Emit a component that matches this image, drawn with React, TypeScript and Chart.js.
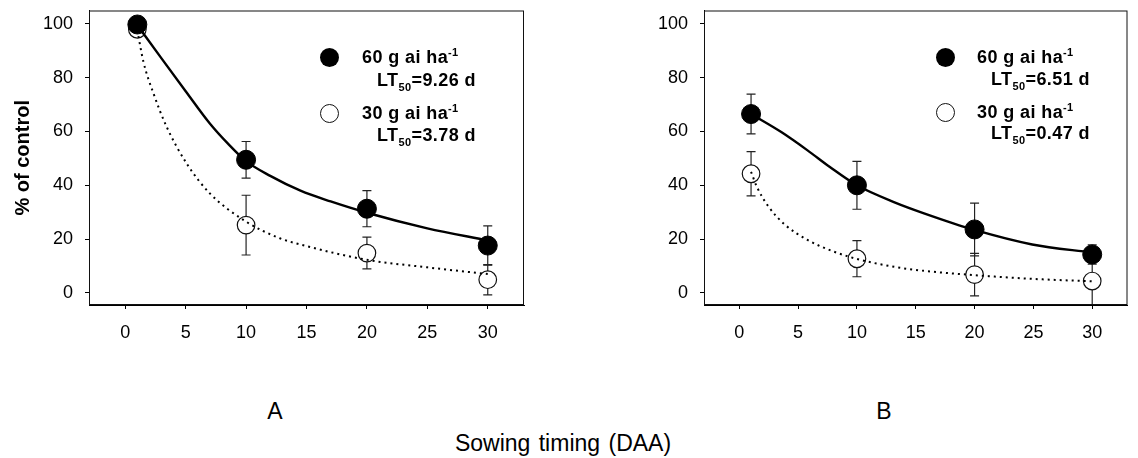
import React, { useEffect, useRef } from 'react';
import { Chart, registerables } from 'chart.js';

Chart.register(...registerables);

const FONT = "Arial, 'Liberation Sans', Helvetica, sans-serif";

// ---- data ----
const xTicks = [0, 5, 10, 15, 20, 25, 30];
const yTicks = [0, 20, 40, 60, 80, 100];
const sowingDays = [1, 10, 20, 30];

// Panel A observed means and errors
const a60Mean = [99.8, 49.5, 31.3, 17.6];
const a60Err = [0, 6.8, 6.7, 7.3];
const a30Mean = [98.0, 25.2, 14.8, 4.9];
const a30Err = [0, 11.1, 5.9, 5.6];

// Panel A fitted curves
const a60CurveX = [1, 3, 5, 7, 8.5, 10, 12, 14.5, 17, 20, 25, 30];
const a60CurveY = [99.5, 87.2, 75, 63, 55.5, 49, 43.5, 38, 34, 29.8, 24, 19.5];
const a30CurveX = [1, 1.5, 2.35, 3.4, 5.1, 7, 10, 12.8, 14.5, 20, 25, 30];
const a30CurveY = [97.6, 86, 74, 62, 48, 37, 26.5, 20.3, 18, 12.3, 9.5, 7];

// Panel B observed means and errors
const b60Mean = [66.5, 40.0, 23.6, 14.3];
const b60Err = [7.4, 8.9, 9.8, 3.6];
const b30Mean = [44.3, 12.7, 6.8, 4.4];
const b30Err = [8.2, 6.7, 7.9, 10];

// Panel B fitted curves
const b60CurveX = [1, 3.6, 5.8, 7.7, 10, 13.3, 15.7, 20, 24.9, 30];
const b60CurveY = [66.5, 59.7, 53, 46.8, 40, 33.5, 29.6, 23.4, 18, 15];
const b30CurveX = [1, 1.5, 2.5, 3.9, 5.8, 8, 10.2, 13.3, 15.7, 20, 25, 30];
const b30CurveY = [45, 39.4, 32, 25.3, 19.7, 15.4, 12.4, 9.6, 8.2, 6.6, 5.2, 4.3];

const rateLabels = ['60 g ai ha', '30 g ai ha'];
const ltA = ['9.26', '3.78'];
const ltB = ['6.51', '0.47'];

type Panel = {
  m60: number[]; e60: number[]; m30: number[]; e30: number[];
  c60x: number[]; c60y: number[]; c30x: number[]; c30y: number[];
};

const panelA: Panel = { m60: a60Mean, e60: a60Err, m30: a30Mean, e30: a30Err, c60x: a60CurveX, c60y: a60CurveY, c30x: a30CurveX, c30y: a30CurveY };
const panelB: Panel = { m60: b60Mean, e60: b60Err, m30: b30Mean, e30: b30Err, c60x: b60CurveX, c60y: b60CurveY, c30x: b30CurveX, c30y: b30CurveY };

const zip = (xs: number[], ys: number[]) => xs.map((x, i) => ({ x, y: ys[i] }));

function makeConfig(p: Panel, showTitle: boolean, yWidth: number, padRight: number): any {
  const errorBars = {
    id: 'errorBars',
    beforeDatasetsDraw(chart: any) {
      const { ctx, chartArea, scales } = chart;
      const xs = scales.x, ys = scales.y;
      ctx.save();
      ctx.beginPath();
      ctx.rect(chartArea.left, chartArea.top, chartArea.right - chartArea.left, chartArea.bottom - chartArea.top);
      ctx.clip();
      ctx.strokeStyle = '#222';
      ctx.lineWidth = 1.2;
      const sets = [[p.m60, p.e60], [p.m30, p.e30]];
      sets.forEach(([m, e]) => {
        sowingDays.forEach((d, i) => {
          if (!e[i]) return;
          const px = xs.getPixelForValue(d);
          const top = ys.getPixelForValue(m[i] + e[i]);
          const bot = ys.getPixelForValue(m[i] - e[i]);
          ctx.beginPath();
          ctx.moveTo(px, top); ctx.lineTo(px, bot);
          ctx.moveTo(px - 4.5, top); ctx.lineTo(px + 4.5, top);
          ctx.moveTo(px - 4.5, bot); ctx.lineTo(px + 4.5, bot);
          ctx.stroke();
        });
      });
      ctx.restore();
    },
  };
  const frame = {
    id: 'frame',
    afterDraw(chart: any) {
      const { ctx, chartArea } = chart;
      ctx.save();
      ctx.strokeStyle = '#111';
      ctx.lineWidth = 1;
      ctx.strokeRect(chartArea.left + 0.5, chartArea.top + 0.5, chartArea.right - chartArea.left - 1, chartArea.bottom - chartArea.top - 1);
      ctx.restore();
    },
  };
  return {
    type: 'scatter',
    data: {
      datasets: [
        { label: 'fit60', data: zip(p.c60x, p.c60y), showLine: true, borderColor: '#000', borderWidth: 2.4, pointRadius: 0, cubicInterpolationMode: 'monotone', fill: false, order: 0 },
        { label: 'fit30', data: zip(p.c30x, p.c30y), showLine: true, borderColor: '#000', borderWidth: 2, borderDash: [2, 4], pointRadius: 0, cubicInterpolationMode: 'monotone', fill: false, order: 0 },
        { label: '60 g', data: zip(sowingDays, p.m60), pointRadius: 9.5, pointBackgroundColor: '#000', pointBorderColor: '#000', pointBorderWidth: 1, order: 1 },
        { label: '30 g', data: zip(sowingDays, p.m30), pointRadius: 8.8, pointBackgroundColor: '#fff', pointBorderColor: '#111', pointBorderWidth: 1.2, order: 1 },
      ],
    },
    options: {
      animation: false,
      responsive: false,
      events: [],
      layout: { padding: { left: 0, top: 8, right: padRight, bottom: 5 } },
      plugins: { legend: { display: false }, tooltip: { enabled: false }, title: { display: false } },
      scales: {
        x: {
          type: 'linear', min: -3, max: 33,
          afterBuildTicks: (s: any) => { s.ticks = xTicks.map((v) => ({ value: v })); },
          afterFit: (s: any) => { s.height = 50; s.paddingLeft = 0; s.paddingRight = 0; },
          ticks: { color: '#000', font: { size: 18, family: FONT }, padding: 13, maxRotation: 0, autoSkip: false },
          grid: { drawOnChartArea: false, drawTicks: true, tickLength: 4, color: '#000', tickColor: '#000' },
          border: { display: true, color: '#000' },
        },
        y: {
          type: 'linear', min: -4.5, max: 105,
          afterBuildTicks: (s: any) => { s.ticks = yTicks.map((v) => ({ value: v })); },
          afterFit: (s: any) => { s.width = yWidth; s.paddingTop = 0; s.paddingBottom = 0; },
          ticks: { color: '#000', font: { size: 18, family: FONT }, padding: 12 },
          grid: { drawOnChartArea: false, drawTicks: true, tickLength: 4, color: '#000', tickColor: '#000' },
          border: { display: true, color: '#000' },
          title: { display: showTitle, text: '% of control', color: '#000', font: { size: 20, weight: 'bold', family: FONT }, padding: { top: 11, bottom: 0 } },
        },
      },
    },
    plugins: [errorBars, frame],
  };
}

function PanelChart({ panel, left, showTitle, yWidth, padRight }: { panel: Panel; left: number; showTitle: boolean; yWidth: number; padRight: number }) {
  const ref = useRef<HTMLCanvasElement | null>(null);
  useEffect(() => {
    if (!ref.current) return;
    Chart.defaults.font.family = FONT;
    const chart = new Chart(ref.current, makeConfig(panel, showTitle, yWidth, padRight));
    return () => chart.destroy();
  }, []);
  return <canvas ref={ref} width={569} height={360} style={{ position: 'absolute', left, top: 0, width: 569, height: 360 }} />;
}

const legendText: React.CSSProperties = {
  position: 'absolute', fontSize: 18, fontWeight: 'bold', lineHeight: '22px', whiteSpace: 'nowrap', letterSpacing: '0.4px', color: '#000',
};

function Legend({ cx, textX, ltX, rows, lt }: { cx: number; textX: number; ltX: number; rows: number[]; lt: string[] }) {
  return (
    <>
      {rateLabels.map((lab, i) => {
        const cy = rows[i * 2];
        const ly = rows[i * 2 + 1];
        const filled = i === 0;
        return (
          <React.Fragment key={i}>
            <div style={{ position: 'absolute', left: cx - 9.5, top: cy - 9.5, width: 19, height: 19, borderRadius: '50%', boxSizing: 'border-box', background: filled ? '#000' : '#fff', border: filled ? 'none' : '1.2px solid #111' }} />
            <div style={{ ...legendText, left: textX, top: cy - 11 }}>
              {lab}<span style={{ fontSize: 11, position: 'relative', top: -7 }}>-1</span>
            </div>
            <div style={{ ...legendText, left: ltX, top: ly - 11 }}>
              LT<span style={{ fontSize: 11, position: 'relative', top: 5 }}>50</span>={lt[i]} d
            </div>
          </React.Fragment>
        );
      })}
    </>
  );
}

export default function App() {
  const label: React.CSSProperties = { position: 'absolute', transform: 'translate(-50%, -50%)', fontSize: 23, whiteSpace: 'nowrap', color: '#000' };
  return (
    <div style={{ position: 'absolute', left: 0, top: 0, width: 1138, height: 458, background: '#fff', fontFamily: FONT, overflow: 'hidden' }}>
      <PanelChart panel={panelA} left={0} showTitle={true} yWidth={89} padRight={45} />
      <PanelChart panel={panelB} left={569} showTitle={false} yWidth={135} padRight={1} />
      <Legend cx={329} textX={362} ltX={377} rows={[57, 80, 113, 135]} lt={ltA} />
      <Legend cx={945} textX={977} ltX={991} rows={[57, 79, 112, 133]} lt={ltB} />
      <div style={{ ...label, left: 275, top: 411 }}>A</div>
      <div style={{ ...label, left: 884, top: 411 }}>B</div>
      <div style={{ ...label, left: 563, top: 443, wordSpacing: 2 }}>Sowing timing (DAA)</div>
    </div>
  );
}
